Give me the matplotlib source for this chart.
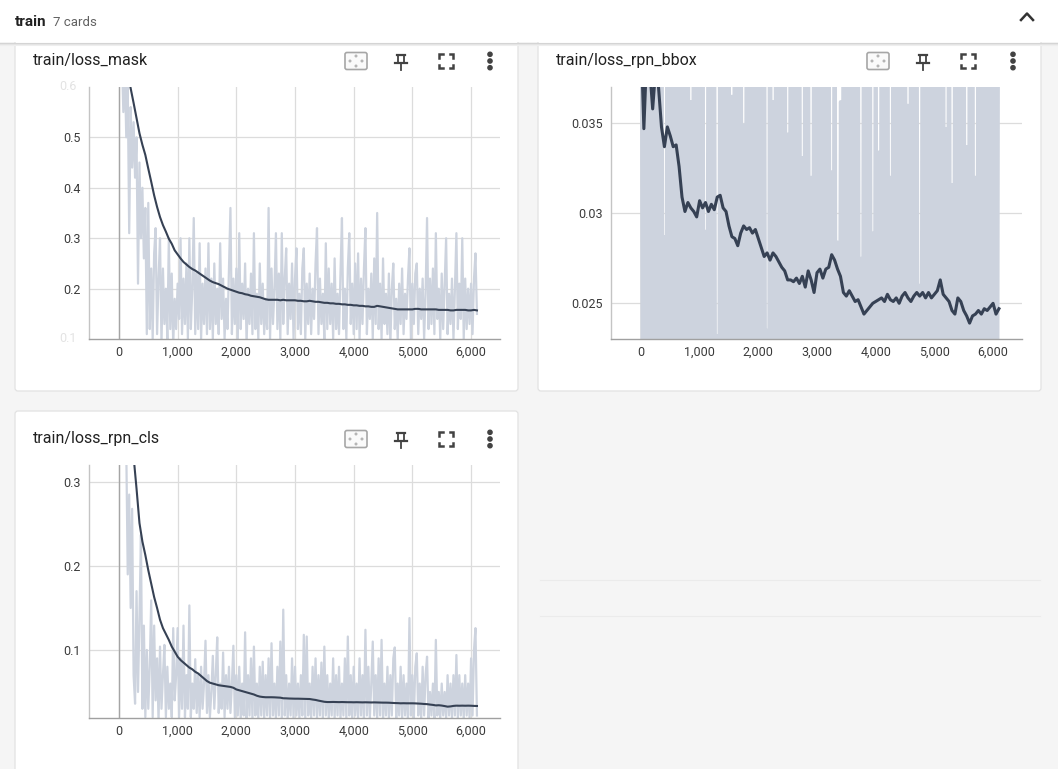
import numpy as np
import matplotlib
matplotlib.use("Agg")
import matplotlib.pyplot as plt
from matplotlib.patches import FancyBboxPatch, Rectangle, Circle
from matplotlib.ticker import FuncFormatter

plt.rcParams['font.family'] = ['Roboto', 'DejaVu Sans']

W, H = 1058, 769
RAW_STEP = 25       # raw points every 25 iterations
SMOOTH_STEP = 50    # smoothed curve read every 50 iterations

X_TICKS = [0, 1000, 2000, 3000, 4000, 5000, 6000]
X_LIM = (-510, 6493)

# ── train/loss_mask ─────────────────────────────────────────────
mask_raw = [
    0.68, 0.62, 0.66, 0.55, 0.64, 0.50, 0.60, 0.31, 0.56, 0.44, 0.53, 0.42, 0.50, 0.21, 0.45, 0.30, 0.40, 0.26, 0.36, 0.11,
    0.37, 0.12, 0.24, 0.10, 0.27, 0.32, 0.11, 0.22, 0.30, 0.09, 0.24, 0.13, 0.20, 0.10, 0.30, 0.12, 0.23, 0.09, 0.18, 0.12,
    0.21, 0.14, 0.30, 0.11, 0.22, 0.13, 0.25, 0.10, 0.30, 0.12, 0.20, 0.34, 0.11, 0.23, 0.12, 0.29, 0.10, 0.21, 0.13, 0.24,
    0.11, 0.29, 0.12, 0.22, 0.10, 0.25, 0.13, 0.20, 0.11, 0.29, 0.14, 0.22, 0.10, 0.18, 0.12, 0.24, 0.36, 0.11, 0.22, 0.13,
    0.24, 0.10, 0.31, 0.12, 0.21, 0.14, 0.25, 0.09, 0.20, 0.13, 0.23, 0.11, 0.31, 0.12, 0.19, 0.10, 0.25, 0.13, 0.21, 0.11,
    0.18, 0.12, 0.36, 0.10, 0.24, 0.13, 0.20, 0.31, 0.12, 0.23, 0.10, 0.31, 0.13, 0.22, 0.28, 0.11, 0.21, 0.14, 0.25, 0.10,
    0.22, 0.28, 0.12, 0.19, 0.11, 0.24, 0.28, 0.10, 0.21, 0.13, 0.23, 0.11, 0.20, 0.14, 0.25, 0.32, 0.11, 0.22, 0.13, 0.19,
    0.10, 0.29, 0.12, 0.24, 0.13, 0.21, 0.10, 0.26, 0.12, 0.19, 0.11, 0.23, 0.34, 0.12, 0.20, 0.10, 0.24, 0.31, 0.13, 0.21,
    0.11, 0.25, 0.12, 0.27, 0.10, 0.22, 0.13, 0.24, 0.32, 0.11, 0.20, 0.14, 0.23, 0.10, 0.26, 0.13, 0.35, 0.12, 0.21, 0.10,
    0.26, 0.13, 0.19, 0.11, 0.23, 0.09, 0.20, 0.25, 0.12, 0.18, 0.10, 0.21, 0.13, 0.24, 0.11, 0.19, 0.14, 0.22, 0.28, 0.10,
    0.21, 0.13, 0.23, 0.25, 0.11, 0.20, 0.14, 0.22, 0.10, 0.19, 0.34, 0.12, 0.22, 0.13, 0.24, 0.11, 0.31, 0.14, 0.20, 0.10,
    0.23, 0.12, 0.21, 0.30, 0.11, 0.19, 0.13, 0.22, 0.10, 0.20, 0.31, 0.12, 0.21, 0.14, 0.30, 0.10, 0.22, 0.12, 0.20, 0.13,
    0.21, 0.11, 0.22, 0.27, 0.15,
]
mask_smooth = [
    0.750, 0.720, 0.680, 0.630, 0.597, 0.568, 0.538, 0.508, 0.485, 0.465,
    0.438, 0.412, 0.385, 0.362, 0.342, 0.326, 0.313, 0.299, 0.289, 0.276,
    0.268, 0.260, 0.253, 0.248, 0.243, 0.239, 0.236, 0.232, 0.228, 0.224,
    0.220, 0.216, 0.213, 0.211, 0.209, 0.206, 0.203, 0.200, 0.198, 0.196,
    0.194, 0.192, 0.191, 0.189, 0.188, 0.186, 0.185, 0.184, 0.183, 0.181,
    0.179, 0.178, 0.178, 0.178, 0.178, 0.177, 0.178, 0.177, 0.177, 0.177,
    0.177, 0.176, 0.176, 0.175, 0.175, 0.176, 0.175, 0.174, 0.174, 0.173,
    0.172, 0.172, 0.171, 0.171, 0.170, 0.170, 0.169, 0.169, 0.168, 0.168,
    0.167, 0.167, 0.166, 0.166, 0.165, 0.165, 0.164, 0.164, 0.166, 0.165,
    0.164, 0.163, 0.162, 0.161, 0.160, 0.159, 0.159, 0.159, 0.159, 0.159,
    0.159, 0.160, 0.160, 0.159, 0.159, 0.159, 0.159, 0.159, 0.159, 0.158,
    0.158, 0.158, 0.158, 0.157, 0.157, 0.158, 0.158, 0.158, 0.158, 0.157,
    0.157, 0.158, 0.157,
]
mask_yticks = [0.2, 0.3, 0.4, 0.5]

# ── train/loss_rpn_bbox ─────────────────────────────────────────
bbox_raw = [
    0.058, 0.012, 0.064, 0.009, 0.052, 0.014, 0.071, 0.010, 0.049, 0.013, 0.061, 0.008, 0.055, 0.011, 0.067, 0.015, 0.0287, 0.012, 0.059, 0.010,
    0.063, 0.011, 0.050, 0.014, 0.068, 0.009, 0.054, 0.012, 0.060, 0.010, 0.047, 0.013, 0.066, 0.008, 0.0362, 0.011, 0.057, 0.015, 0.062, 0.010,
    0.053, 0.012, 0.069, 0.009, 0.0290, 0.013, 0.058, 0.010, 0.064, 0.014, 0.051, 0.011, 0.0232, 0.009, 0.060, 0.012, 0.055, 0.008, 0.070, 0.013,
    0.049, 0.010, 0.0365, 0.012, 0.062, 0.015, 0.056, 0.009, 0.067, 0.011, 0.0349, 0.013, 0.052, 0.010, 0.061, 0.012, 0.058, 0.008, 0.065, 0.014,
    0.050, 0.011, 0.063, 0.009, 0.057, 0.013, 0.0235, 0.010, 0.068, 0.012, 0.0362, 0.008, 0.054, 0.014, 0.060, 0.011, 0.048, 0.009, 0.066, 0.012,
    0.0344, 0.010, 0.059, 0.013, 0.053, 0.011, 0.070, 0.009, 0.056, 0.015, 0.0331, 0.012, 0.064, 0.010, 0.051, 0.013, 0.0320, 0.008, 0.062, 0.011,
    0.057, 0.014, 0.066, 0.010, 0.049, 0.012, 0.061, 0.009, 0.058, 0.013, 0.0323, 0.011, 0.069, 0.010, 0.0284, 0.012, 0.0362, 0.008, 0.055, 0.014,
    0.063, 0.011, 0.052, 0.009, 0.067, 0.013, 0.058, 0.010, 0.050, 0.012, 0.0275, 0.015, 0.060, 0.011, 0.054, 0.009, 0.065, 0.013, 0.0289, 0.010,
    0.056, 0.012, 0.0334, 0.008, 0.062, 0.014, 0.051, 0.010, 0.068, 0.011, 0.0320, 0.013, 0.059, 0.009, 0.053, 0.012, 0.064, 0.010, 0.048, 0.015,
    0.061, 0.011, 0.0360, 0.009, 0.057, 0.013, 0.066, 0.010, 0.052, 0.012, 0.0260, 0.014, 0.063, 0.008, 0.055, 0.011, 0.070, 0.013, 0.050, 0.010,
    0.058, 0.012, 0.064, 0.009, 0.053, 0.015, 0.060, 0.011, 0.0347, 0.013, 0.067, 0.010, 0.0316, 0.012, 0.049, 0.009, 0.062, 0.014, 0.056, 0.011,
    0.065, 0.010, 0.0337, 0.012, 0.051, 0.013, 0.059, 0.009, 0.0320, 0.011, 0.068, 0.014, 0.054, 0.010, 0.061, 0.012, 0.057, 0.008, 0.063, 0.013,
    0.052, 0.011, 0.066, 0.010, 0.058,
]
bbox_smooth = [
    0.0400, 0.0347, 0.0390, 0.0380, 0.0358, 0.0380, 0.0370, 0.0348, 0.0337, 0.0348,
    0.0343, 0.0337, 0.0338, 0.0326, 0.0309, 0.0301, 0.0306, 0.0303, 0.0301, 0.0298,
    0.0307, 0.0303, 0.0306, 0.0301, 0.0305, 0.0302, 0.0309, 0.0310, 0.0303, 0.0301,
    0.0293, 0.0287, 0.0286, 0.0282, 0.0289, 0.0293, 0.0291, 0.0292, 0.0289, 0.0291,
    0.0286, 0.0281, 0.0276, 0.0278, 0.0274, 0.0278, 0.0276, 0.0273, 0.0270, 0.0268,
    0.0263, 0.0263, 0.0262, 0.0264, 0.0261, 0.0265, 0.0259, 0.0268, 0.0263, 0.0256,
    0.0267, 0.0269, 0.0264, 0.0269, 0.0270, 0.0277, 0.0274, 0.0269, 0.0265, 0.0256,
    0.0254, 0.0257, 0.0254, 0.0251, 0.0252, 0.0248, 0.0244, 0.0246, 0.0248, 0.0250,
    0.0251, 0.0252, 0.0253, 0.0251, 0.0255, 0.0252, 0.0251, 0.0253, 0.0250, 0.0254,
    0.0256, 0.0253, 0.0251, 0.0254, 0.0256, 0.0254, 0.0256, 0.0253, 0.0256, 0.0253,
    0.0255, 0.0257, 0.0263, 0.0255, 0.0253, 0.0251, 0.0246, 0.0244, 0.0253, 0.0251,
    0.0246, 0.0243, 0.0239, 0.0243, 0.0244, 0.0246, 0.0244, 0.0247, 0.0246, 0.0248,
    0.0250, 0.0244, 0.0247,
]
bbox_yticks = [0.025, 0.03, 0.035]

# ── train/loss_rpn_cls ──────────────────────────────────────────
cls_raw = [
    0.40, 0.36, 0.42, 0.38, 0.45, 0.34, 0.19, 0.285, 0.15, 0.268, 0.07, 0.036, 0.17, 0.05, 0.14, 0.237, 0.03, 0.129, 0.02, 0.10,
    0.03, 0.08, 0.159, 0.02, 0.129, 0.04, 0.09, 0.015, 0.104, 0.03, 0.07, 0.106, 0.02, 0.08, 0.03, 0.06, 0.02, 0.126, 0.04, 0.07,
    0.126, 0.02, 0.09, 0.03, 0.129, 0.02, 0.07, 0.03, 0.153, 0.02, 0.06, 0.03, 0.089, 0.025, 0.07, 0.02, 0.08, 0.03, 0.06, 0.111,
    0.025, 0.07, 0.02, 0.05, 0.093, 0.03, 0.07, 0.115, 0.025, 0.06, 0.03, 0.097, 0.02, 0.07, 0.03, 0.08, 0.025, 0.06, 0.105, 0.02,
    0.07, 0.022, 0.08, 0.018, 0.06, 0.022, 0.121, 0.018, 0.07, 0.022, 0.09, 0.018, 0.104, 0.022, 0.06, 0.018, 0.08, 0.022, 0.086, 0.018,
    0.07, 0.022, 0.09, 0.018, 0.108, 0.022, 0.06, 0.018, 0.08, 0.022, 0.11, 0.018, 0.148, 0.022, 0.07, 0.018, 0.06, 0.022, 0.09, 0.018,
    0.08, 0.022, 0.06, 0.018, 0.07, 0.022, 0.118, 0.018, 0.116, 0.022, 0.06, 0.018, 0.08, 0.022, 0.09, 0.018, 0.07, 0.022, 0.085, 0.018,
    0.104, 0.022, 0.07, 0.018, 0.06, 0.022, 0.09, 0.018, 0.07, 0.022, 0.08, 0.018, 0.06, 0.022, 0.09, 0.018, 0.116, 0.022, 0.07, 0.018,
    0.08, 0.022, 0.06, 0.018, 0.09, 0.022, 0.07, 0.018, 0.124, 0.022, 0.08, 0.018, 0.06, 0.11, 0.022, 0.07, 0.018, 0.09, 0.022, 0.112,
    0.018, 0.06, 0.022, 0.08, 0.018, 0.07, 0.022, 0.09, 0.103, 0.018, 0.06, 0.022, 0.08, 0.018, 0.07, 0.022, 0.06, 0.018, 0.138, 0.022,
    0.07, 0.018, 0.08, 0.096, 0.022, 0.06, 0.018, 0.08, 0.022, 0.07, 0.092, 0.018, 0.05, 0.022, 0.06, 0.018, 0.112, 0.022, 0.05, 0.018,
    0.06, 0.022, 0.05, 0.018, 0.07, 0.022, 0.06, 0.018, 0.07, 0.022, 0.094, 0.018, 0.07, 0.022, 0.06, 0.018, 0.07, 0.022, 0.06, 0.018,
    0.09, 0.022, 0.10, 0.126, 0.022,
]
cls_smooth = [
    0.620, 0.520, 0.450, 0.400, 0.360, 0.330, 0.292, 0.251, 0.229, 0.213,
    0.195, 0.179, 0.163, 0.150, 0.136, 0.126, 0.119, 0.112, 0.104, 0.098,
    0.092, 0.088, 0.085, 0.082, 0.079, 0.077, 0.074, 0.072, 0.069, 0.066,
    0.063, 0.061, 0.060, 0.059, 0.058, 0.0575, 0.057, 0.0565, 0.056, 0.055,
    0.053, 0.052, 0.051, 0.050, 0.049, 0.048, 0.047, 0.0455, 0.0445, 0.044,
    0.0437, 0.0437, 0.0437, 0.0436, 0.0434, 0.0432, 0.0425, 0.0424, 0.0422, 0.0421,
    0.0420, 0.0420, 0.0419, 0.0418, 0.0417, 0.0416, 0.0410, 0.0405, 0.0397, 0.0390,
    0.0383, 0.0380, 0.0380, 0.0381, 0.0380, 0.0379, 0.0380, 0.0379, 0.0378, 0.0378,
    0.0377, 0.0378, 0.0377, 0.0376, 0.0377, 0.0376, 0.0375, 0.0376, 0.0375, 0.0374,
    0.0373, 0.0373, 0.0372, 0.0370, 0.0368, 0.0367, 0.0365, 0.0366, 0.0365, 0.0365,
    0.0365, 0.0364, 0.0362, 0.0360, 0.0357, 0.0355, 0.0350, 0.0346, 0.0340, 0.0342,
    0.0338, 0.0332, 0.0325, 0.0328, 0.0334, 0.0337, 0.0336, 0.0337, 0.0336, 0.0337,
    0.0336, 0.0334, 0.0333,
]
cls_yticks = [0.1, 0.2, 0.3]

RAW_C = "#cdd3de"
SMOOTH_C = "#364154"
ICON_C = "#424242"
TICK_C = "#3a3a3a"

fig = plt.figure(figsize=(W / 100, H / 100), dpi=100, facecolor="#f5f5f5")

# background layer in pixel coords (y down)
bg = fig.add_axes([0, 0, 1, 1])
bg.set_xlim(0, W)
bg.set_ylim(H, 0)
bg.axis("off")
bg.set_zorder(0)


def card(x0, y0, x1, y1):
    bg.add_patch(FancyBboxPatch((x0, y0), x1 - x0, y1 - y0,
                                boxstyle="round,pad=0,rounding_size=3",
                                fc="white", ec="#e2e2e2", lw=0.9, zorder=1))


def icons(y, xs):
    fx, px, sx, dx = xs
    # fit-to-domain box
    bg.add_patch(FancyBboxPatch((fx - 11, y - 8.5), 22, 17,
                                boxstyle="round,pad=0,rounding_size=2",
                                fc="#fafafa", ec="#a6a6a6", lw=1.2, zorder=3))
    for ddx, ddy in [(-6, 0), (6, 0), (0, -5), (0, 5)]:
        bg.add_patch(Circle((fx + ddx, y + ddy), 0.8, color="#b5b5b5", zorder=4))
    # pin
    bg.plot([px - 4, px + 4], [y - 6.5, y - 6.5], color=ICON_C, lw=1.6, zorder=4)
    bg.plot([px - 3, px - 3], [y - 6.5, y + 2], color=ICON_C, lw=1.3, zorder=4)
    bg.plot([px + 3, px + 3], [y - 6.5, y + 2], color=ICON_C, lw=1.3, zorder=4)
    bg.plot([px - 6, px + 6], [y + 2, y + 2], color=ICON_C, lw=1.6, zorder=4)
    bg.plot([px, px], [y + 2, y + 9], color=ICON_C, lw=1.3, zorder=4)
    # fullscreen corners
    r, a = 7, 3.5
    for sx_, sy_ in [(-1, -1), (1, -1), (-1, 1), (1, 1)]:
        cx, cy = sx + sx_ * r, y + sy_ * r
        bg.plot([cx - sx_ * a, cx, cx], [cy, cy, cy - sy_ * a],
                color=ICON_C, lw=1.8, solid_joinstyle="miter", zorder=4)
    # kebab menu
    for ddy in (-6.7, 0, 6.7):
        bg.add_patch(Circle((dx, y + ddy), 2.1, color=ICON_C, zorder=4))


card(15, 30, 518, 391)
card(538, 30, 1041, 391)
card(15, 411, 518, 790)

# faint empty-card lines on the right
bg.plot([540, 1040], [580, 580], color="#ebebeb", lw=0.8, zorder=1)
bg.plot([540, 1040], [616, 616], color="#ebebeb", lw=0.8, zorder=1)

# header bar
bg.add_patch(Rectangle((0, 0), W, 42, fc="white", ec="none", zorder=5))
for k, c in enumerate(["#d4d4d4", "#e4e4e4", "#eeeeee"]):
    bg.plot([0, W], [42.5 + k, 42.5 + k], color=c, lw=0.8, zorder=5)
bg.text(15, 22, "train", fontsize=11, fontweight="bold", color="#212121",
        va="center", ha="left", zorder=6)
bg.text(53, 22.5, "7 cards", fontsize=9.5, color="#616161", va="center", ha="left", zorder=6)
bg.plot([1021, 1027, 1033], [20, 13.5, 20], color="#333333", lw=1.8, zorder=6)

# card titles + icons
bg.text(33, 60, "train/loss_mask", fontsize=11.5, color="#212121", va="center", zorder=3)
bg.text(556, 60, "train/loss_rpn_bbox", fontsize=11.5, color="#212121", va="center", zorder=3)
bg.text(33, 438, "train/loss_rpn_cls", fontsize=11.5, color="#212121", va="center", zorder=3)
icons(61, (356, 401, 446, 490))
icons(61, (878, 923, 968, 1013))
icons(439, (356, 401, 446, 490))


def chart(box, raw, smooth, ylim, yticks, raw_lw, sm_lw):
    x0, y0, x1, y1 = box
    ax = fig.add_axes([x0 / W, 1 - y1 / H, (x1 - x0) / W, (y1 - y0) / H])
    ax.set_zorder(2)
    ax.set_facecolor("white")
    xr = np.arange(len(raw)) * RAW_STEP
    xs = np.arange(len(smooth)) * SMOOTH_STEP
    ax.plot(xr, raw, color=RAW_C, lw=raw_lw, solid_joinstyle="round", zorder=2)
    ax.plot(xs, smooth, color=SMOOTH_C, lw=sm_lw, solid_joinstyle="round", zorder=3)
    ax.axvline(0, color="#a5a5a5", lw=1.0, zorder=1)
    ax.set_xlim(*X_LIM)
    ax.set_ylim(*ylim)
    ax.set_xticks(X_TICKS)
    ax.set_yticks(yticks)
    ax.xaxis.set_major_formatter(FuncFormatter(lambda v, _: f"{int(v):,}"))
    ax.yaxis.set_major_formatter(FuncFormatter(lambda v, _: f"{v:g}"))
    ax.grid(True, color="#dcdcdc", lw=0.9)
    ax.set_axisbelow(True)
    ax.tick_params(length=0, labelsize=9, colors=TICK_C)
    ax.tick_params(axis="y", pad=6)
    ax.tick_params(axis="x", pad=5)
    for s in ("top", "right"):
        ax.spines[s].set_visible(False)
    ax.spines["left"].set_color("#c4c4c4")
    ax.spines["bottom"].set_color("#a0a0a0")
    ax.spines["left"].set_linewidth(1.0)
    ax.spines["bottom"].set_linewidth(1.0)
    return ax


ax1 = chart((89, 87, 500, 339), mask_raw, mask_smooth, (0.1003, 0.5997), mask_yticks, 1.6, 1.5)
ax1.text(-0.03, 1.0, "0.6", transform=ax1.transAxes, ha="right", va="center",
         fontsize=9, color="#e3e3e3")
ax1.text(-0.03, 0.0, "0.1", transform=ax1.transAxes, ha="right", va="center",
         fontsize=9, color="#e3e3e3")

ax2 = chart((611, 87, 1022, 339), bbox_raw, bbox_smooth, (0.023017, 0.037017), bbox_yticks, 2.3, 2.2)

ax3 = chart((89, 465, 500, 718), cls_raw, cls_smooth, (0.019, 0.3202), cls_yticks, 1.6, 1.5)

fig.savefig("out.png", dpi=100, facecolor=fig.get_facecolor())
